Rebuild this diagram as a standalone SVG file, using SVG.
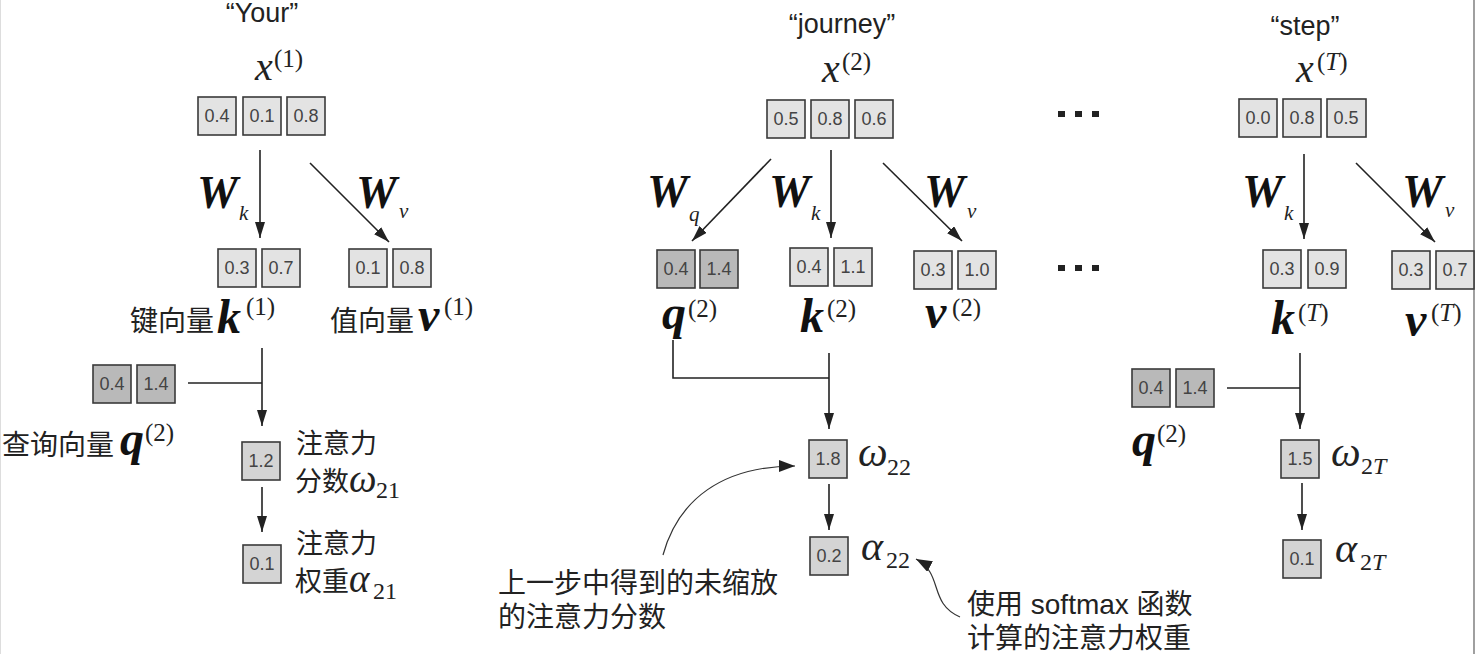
<svg xmlns="http://www.w3.org/2000/svg" width="1476" height="654" viewBox="0 0 1476 654">
<style>
.bg{fill:#ffffff}
.b{stroke:#3a3a3a;stroke-width:1.6}
.l{fill:#e3e3e3}
.q{fill:#b9b9b9}
.s{fill:#d4d4d4}
.n{font-family:"Liberation Sans",Arial,sans-serif;font-size:18px;fill:#444;text-anchor:middle}
.cn{font-family:"Liberation Sans","Noto Sans CJK SC",sans-serif;font-size:27px;fill:#222}
.cnb{font-family:"Liberation Sans","Noto Sans CJK SC",sans-serif;font-size:28px;fill:#222}
.t{font-family:"Liberation Sans",Arial,sans-serif;font-size:27px;fill:#222}
.mi{font-family:"Liberation Serif","Times New Roman",serif;font-style:italic;fill:#222}
.mu{font-family:"Liberation Serif","Times New Roman",serif;fill:#222}
.bi{font-family:"Liberation Serif","Times New Roman",serif;font-style:italic;font-weight:bold;fill:#111}
.W{font-size:46px}
.B{font-size:48px}
.g{font-size:42px}
.g2{font-size:39px}
.x{font-size:40px}
.sub{font-size:21px}
.gs{font-size:24px}
.sup{font-size:25px}
.ln{stroke:#222;stroke-width:1.6;fill:none}
.ar{stroke:#222;stroke-width:1.6;fill:none;marker-end:url(#ah)}
.cv{stroke:#333;stroke-width:1.2;fill:none;marker-end:url(#ah2)}
.dot{fill:#222}
</style>
<defs>
<marker id="ah" viewBox="0 0 16 10" refX="16" refY="5" markerWidth="16" markerHeight="10" markerUnits="userSpaceOnUse" orient="auto">
<path d="M0,0 L16,5 L0,10 z" fill="#222"/>
</marker>
<marker id="ah2" viewBox="0 0 16 12" refX="16" refY="6" markerWidth="16" markerHeight="12" markerUnits="userSpaceOnUse" orient="auto">
<path d="M0,0 L16,6 L0,12 z" fill="#222"/>
</marker>
</defs>
<rect class="bg" x="0" y="0" width="1476" height="654"/>
<line x1="0.5" y1="0" x2="0.5" y2="654" stroke="#dddddd" stroke-width="1"/>
<line x1="1474" y1="0" x2="1474" y2="654" stroke="#888888" stroke-width="1.6"/>

<g id="connectors">
<line class="ar" x1="260" y1="150" x2="260" y2="238"/>
<line class="ar" x1="310" y1="163" x2="389" y2="242"/>
<line class="ln" x1="188" y1="383" x2="262" y2="383"/>
<line class="ar" x1="262" y1="348" x2="262" y2="426"/>
<line class="ar" x1="262" y1="487" x2="262" y2="532"/>
<line class="ar" x1="771" y1="159" x2="692" y2="241"/>
<line class="ar" x1="831" y1="150" x2="831" y2="238"/>
<line class="ar" x1="883" y1="163" x2="962" y2="241"/>
<polyline class="ln" points="673,340 673,378 829,378"/>
<line class="ar" x1="829" y1="353" x2="829" y2="429"/>
<line class="ar" x1="829" y1="484" x2="829" y2="530"/>
<path class="cv" d="M663,555 C678,500 722,466 795,466"/>
<path class="cv" d="M960,617 C928,603 944,574 916,559"/>
<line class="ar" x1="1304" y1="154" x2="1304" y2="239"/>
<line class="ar" x1="1356" y1="163" x2="1435" y2="242"/>
<line class="ln" x1="1227" y1="388" x2="1300" y2="388"/>
<line class="ar" x1="1300" y1="353" x2="1300" y2="429"/>
<line class="ar" x1="1302" y1="483" x2="1302" y2="530"/>
</g>

<!-- Left column -->
<g id="x1">
<text class="t" x="262" y="22" text-anchor="middle">“Your”</text>
<text class="mi x" x="255" y="80">x</text>
<text class="mu sup" x="274" y="67">(1)</text>
<rect class="b l" x="198" y="97" width="38" height="38"/><text class="n" x="217" y="122">0.4</text>
<rect class="b l" x="243" y="97" width="38" height="38"/><text class="n" x="262" y="122">0.1</text>
<rect class="b l" x="287" y="97" width="38" height="38"/><text class="n" x="306" y="122">0.8</text>
</g>
<g id="Wk1">
<text class="bi W" x="197" y="208">W</text><text class="mi sub" x="239" y="220">k</text>
</g>
<g id="Wv1">
<text class="bi W" x="356" y="208">W</text><text class="mi sub" x="399" y="218">v</text>
</g>
<g id="k1">
<rect class="b l" x="218" y="249" width="38" height="38"/><text class="n" x="237" y="274">0.3</text>
<rect class="b l" x="262" y="249" width="38" height="38"/><text class="n" x="281" y="274">0.7</text>
<text class="cnb" x="130" y="331">键向量</text>
<text class="bi B" x="217" y="333">k</text>
<text class="mu sup" x="246" y="315">(1)</text>
</g>
<g id="v1">
<rect class="b l" x="349" y="249" width="38" height="38"/><text class="n" x="368" y="274">0.1</text>
<rect class="b l" x="393" y="249" width="38" height="38"/><text class="n" x="412" y="274">0.8</text>
<text class="cnb" x="330" y="331">值向量</text>
<text class="bi B" x="418" y="331">v</text>
<text class="mu sup" x="444" y="315">(1)</text>
</g>
<g id="q2a">
<rect class="b q" x="93" y="365" width="38" height="38"/><text class="n" x="112" y="390">0.4</text>
<rect class="b q" x="137" y="365" width="38" height="38"/><text class="n" x="156" y="390">1.4</text>
<text class="cnb" x="2" y="455">查询向量</text>
<text class="bi B" x="120" y="455">q</text>
<text class="mu sup" x="145" y="441">(2)</text>
</g>
<g id="w21">
<rect class="b s" x="242" y="442" width="38" height="38"/><text class="n" x="261" y="467">1.2</text>
<text class="cn" x="296" y="453">注意力</text>
<text class="cn" x="295" y="491">分数</text>
<text class="mi g2" x="349" y="492">ω</text>
<text class="mu gs" x="376" y="498">21</text>
</g>
<g id="a21">
<rect class="b s" x="243" y="545" width="38" height="38"/><text class="n" x="262" y="570">0.1</text>
<text class="cn" x="296" y="553">注意力</text>
<text class="cn" x="295" y="591">权重</text>
<text class="mi g2" x="349" y="592">α</text>
<text class="mu gs" x="373" y="599">21</text>
</g>

<!-- Middle column -->
<g id="x2">
<text class="t" x="842" y="33" text-anchor="middle">“journey”</text>
<text class="mi x" x="822" y="82">x</text>
<text class="mu sup" x="842" y="70">(2)</text>
<rect class="b l" x="767" y="100" width="38" height="38"/><text class="n" x="786" y="125">0.5</text>
<rect class="b l" x="811" y="100" width="38" height="38"/><text class="n" x="830" y="125">0.8</text>
<rect class="b l" x="855" y="100" width="38" height="38"/><text class="n" x="874" y="125">0.6</text>
</g>
<g id="Wq2">
<text class="bi W" x="647" y="207">W</text><text class="mi sub" x="689" y="221">q</text>
</g>
<g id="Wk2">
<text class="bi W" x="769" y="207">W</text><text class="mi sub" x="811" y="220">k</text>
</g>
<g id="Wv2">
<text class="bi W" x="924" y="207">W</text><text class="mi sub" x="967" y="218">v</text>
</g>
<g id="q2">
<rect class="b q" x="657" y="250" width="38" height="38"/><text class="n" x="676" y="275">0.4</text>
<rect class="b q" x="700" y="250" width="38" height="38"/><text class="n" x="719" y="275">1.4</text>
<text class="bi B" x="662" y="329">q</text>
<text class="mu sup" x="688" y="317">(2)</text>
</g>
<g id="k2">
<rect class="b l" x="790" y="248" width="38" height="38"/><text class="n" x="809" y="273">0.4</text>
<rect class="b l" x="834" y="248" width="38" height="38"/><text class="n" x="853" y="273">1.1</text>
<text class="bi B" x="800" y="332">k</text>
<text class="mu sup" x="827" y="317">(2)</text>
</g>
<g id="v2">
<rect class="b l" x="914" y="251" width="38" height="38"/><text class="n" x="933" y="276">0.3</text>
<rect class="b l" x="958" y="251" width="38" height="38"/><text class="n" x="977" y="276">1.0</text>
<text class="bi B" x="925" y="328">v</text>
<text class="mu sup" x="952" y="316">(2)</text>
</g>
<g id="w22">
<rect class="b s" x="809" y="440" width="38" height="38"/><text class="n" x="828" y="465">1.8</text>
<text class="mi g" x="858" y="466">ω</text>
<text class="mu gs" x="887" y="475">22</text>
</g>
<g id="a22">
<rect class="b s" x="810" y="537" width="38" height="38"/><text class="n" x="829" y="562">0.2</text>
<text class="mi g" x="861" y="560">α</text>
<text class="mu gs" x="886" y="568">22</text>
</g>
<g id="note1">
<text class="cnb" x="498" y="593">上一步中得到的未缩放</text>
<text class="cnb" x="498" y="627">的注意力分数</text>
</g>
<g id="note2">
<text class="cnb" x="967" y="614">使用 softmax 函数</text>
<text class="cnb" x="967" y="648">计算的注意力权重</text>
</g>

<g id="dots">
<rect class="dot" x="1058" y="111" width="7" height="6"/>
<rect class="dot" x="1075" y="111" width="7" height="6"/>
<rect class="dot" x="1092" y="111" width="7" height="6"/>
<rect class="dot" x="1058" y="265" width="7" height="6"/>
<rect class="dot" x="1075" y="265" width="7" height="6"/>
<rect class="dot" x="1092" y="265" width="7" height="6"/>
</g>

<!-- Right column -->
<g id="xT">
<text class="t" x="1305" y="35" text-anchor="middle">“step”</text>
<text class="mi x" x="1296" y="82">x</text>
<text class="mu sup" x="1317" y="70">(<tspan font-style="italic">T</tspan>)</text>
<rect class="b l" x="1239" y="99" width="38" height="38"/><text class="n" x="1258" y="124">0.0</text>
<rect class="b l" x="1283" y="99" width="38" height="38"/><text class="n" x="1302" y="124">0.8</text>
<rect class="b l" x="1327" y="99" width="39" height="38"/><text class="n" x="1346" y="124">0.5</text>
</g>
<g id="WkT">
<text class="bi W" x="1242" y="207">W</text><text class="mi sub" x="1284" y="220">k</text>
</g>
<g id="WvT">
<text class="bi W" x="1402" y="207">W</text><text class="mi sub" x="1445" y="217">v</text>
</g>
<g id="kT">
<rect class="b l" x="1263" y="250" width="38" height="38"/><text class="n" x="1282" y="275">0.3</text>
<rect class="b l" x="1308" y="250" width="38" height="38"/><text class="n" x="1327" y="275">0.9</text>
<text class="bi B" x="1271" y="334">k</text>
<text class="mu sup" x="1298" y="321">(<tspan font-style="italic">T</tspan>)</text>
</g>
<g id="vT">
<rect class="b l" x="1392" y="251" width="38" height="38"/><text class="n" x="1411" y="276">0.3</text>
<rect class="b l" x="1436" y="251" width="38" height="38"/><text class="n" x="1455" y="276">0.7</text>
<text class="bi B" x="1405" y="336">v</text>
<text class="mu sup" x="1431" y="321">(<tspan font-style="italic">T</tspan>)</text>
</g>
<g id="q2T">
<rect class="b q" x="1132" y="369" width="38" height="38"/><text class="n" x="1151" y="394">0.4</text>
<rect class="b q" x="1176" y="369" width="38" height="38"/><text class="n" x="1195" y="394">1.4</text>
<text class="bi B" x="1132" y="456">q</text>
<text class="mu sup" x="1157" y="442">(2)</text>
</g>
<g id="w2T">
<rect class="b s" x="1281" y="440" width="38" height="38"/><text class="n" x="1300" y="465">1.5</text>
<text class="mi g" x="1331" y="466">ω</text>
<text class="mu gs" x="1361" y="474">2<tspan font-style="italic">T</tspan></text>
</g>
<g id="a2T">
<rect class="b s" x="1283" y="540" width="38" height="38"/><text class="n" x="1302" y="565">0.1</text>
<text class="mi g" x="1335" y="562">α</text>
<text class="mu gs" x="1360" y="570">2<tspan font-style="italic">T</tspan></text>
</g>
</svg>
